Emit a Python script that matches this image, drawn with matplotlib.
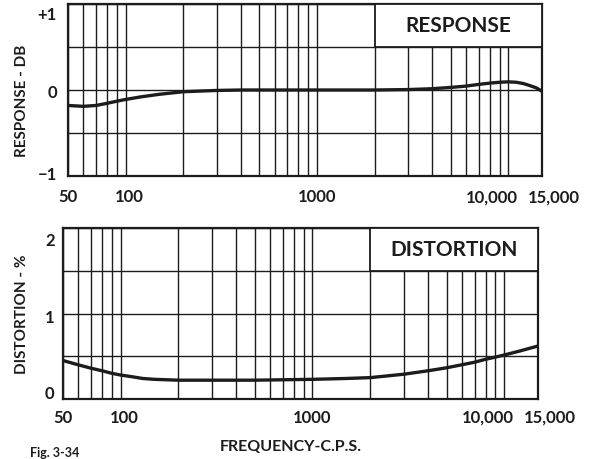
import matplotlib.pyplot as plt
import matplotlib.transforms as mtransforms
from matplotlib.patches import Rectangle
from matplotlib.ticker import LogLocator

plt.rcParams['font.family'] = ['Lato', 'DejaVu Sans']
plt.rcParams['font.weight'] = 'bold'

ink = '#1c1c1c'

# frequency response, dB
resp_freq = [50, 55, 60, 70, 80, 90, 100, 120, 150, 200, 300, 400, 1000,
             2000, 3000, 4000, 5000, 6000, 7000, 8000, 9000, 10000, 11000,
             12000, 13000, 14000, 15000]
resp_db = [-0.18, -0.185, -0.19, -0.18, -0.155, -0.13, -0.11, -0.08, -0.05,
           -0.02, -0.005, 0.0, 0.0, 0.0, 0.005, 0.015, 0.03, 0.045, 0.065,
           0.08, 0.09, 0.095, 0.09, 0.075, 0.05, 0.025, -0.015]

# harmonic distortion, percent
dist_freq = [50, 60, 70, 80, 90, 100, 115, 130, 150, 200, 500, 1000, 1500,
             2000, 3000, 4000, 5000, 6000, 7000, 8000, 9000, 10000, 12000,
             15000]
dist_pct = [0.45, 0.40, 0.36, 0.33, 0.30, 0.28, 0.26, 0.24, 0.23, 0.22, 0.22,
            0.23, 0.24, 0.25, 0.29, 0.33, 0.365, 0.40, 0.43, 0.465, 0.49,
            0.515, 0.56, 0.62]

x_ticks = [50, 100, 1000, 10000, 15000]
x_labels = ['50', '100', '1000', '10,000', '15,000']
# nudges (px) for the tick labels
x_label_shift = [0, 4, 0, -16, 12]
resp_label_shift = [4, 0, 0, 0, -8]
dist_label_shift = [7, 0, -2, 0, -11]

fig = plt.figure(figsize=(5.93, 4.60), dpi=100)
ax1 = fig.add_axes([68 / 593, 1 - 177 / 460, 474 / 593, 172 / 460])
ax2 = fig.add_axes([63 / 593, 1 - 400 / 460, 475 / 593, 171 / 460])


def shift(lab, dx, dy):
    lab.set_transform(lab.get_transform() + mtransforms.ScaledTranslation(dx / 100, dy / 100, fig.dpi_scale_trans))


def setup(ax, ylim, yticks, ylabels, yshift, title, box_y, xpad, ypad):
    ax.set_xscale('log')
    ax.set_xlim(50, 15000)
    ax.set_ylim(*ylim)
    ax.set_xticks(x_ticks, labels=x_labels)
    ax.xaxis.set_minor_locator(LogLocator(base=10, subs=range(2, 10)))
    ax.xaxis.set_minor_formatter(plt.NullFormatter())
    ax.set_yticks(yticks, labels=ylabels)
    ax.tick_params(which='both', length=0, labelsize=12, colors=ink)
    ax.tick_params(axis='x', pad=xpad)
    ax.tick_params(axis='y', pad=ypad)
    ax.grid(True, which='both', color=ink, lw=1.0)
    for s in ax.spines.values():
        s.set_color(ink)
        s.set_linewidth(1.6)
    for lab, dx in zip(ax.get_xticklabels(), x_label_shift):
        shift(lab, dx, 0)
    for lab, dy in zip(ax.get_yticklabels(), yshift):
        shift(lab, 0, dy)

    # title box in the upper right corner
    ax.add_patch(Rectangle((2000, box_y[0]), 13000, box_y[1] - box_y[0],
                           facecolor='white', edgecolor=ink, lw=1.3, zorder=3))
    ax.text((2000 * 15000) ** 0.5, (box_y[0] + box_y[1]) / 2, title,
            ha='center', va='center', fontsize=15, fontweight='bold',
            color=ink, zorder=4)


setup(ax1, (-1, 1), [-1, -0.5, 0, 0.5, 1], ['\u22121', '', '0', '', '+1'],
      resp_label_shift, 'RESPONSE', (0.5, 1), 9, 8)
setup(ax2, (0, 2), [0, 0.5, 1, 1.5, 2], ['0', '', '1', '', '2'],
      dist_label_shift, 'DISTORTION', (1.5, 2), 7, 6)

ax1.plot(resp_freq, resp_db, color=ink, lw=2.4, zorder=5, clip_on=False,
         solid_capstyle='butt')
ax2.plot(dist_freq, dist_pct, color=ink, lw=2.4, zorder=5, clip_on=False,
         solid_capstyle='butt')

fig.text(22 / 593, 1 - 101 / 460, 'RESPONSE - DB', rotation=90,
         ha='center', va='center', fontsize=11, color=ink)
fig.text(22 / 593, 1 - 314 / 460, 'DISTORTION - %', rotation=90,
         ha='center', va='center', fontsize=11, color=ink)
fig.text(291 / 593, 1 - 447 / 460, 'FREQUENCY-C.P.S.',
         ha='center', va='center', fontsize=11.5, color=ink)
fig.text(30 / 593, 1 / 460, 'Fig. 3-34', ha='left', va='bottom',
         fontsize=9, color=ink)

plt.savefig('out.png', dpi=100)
